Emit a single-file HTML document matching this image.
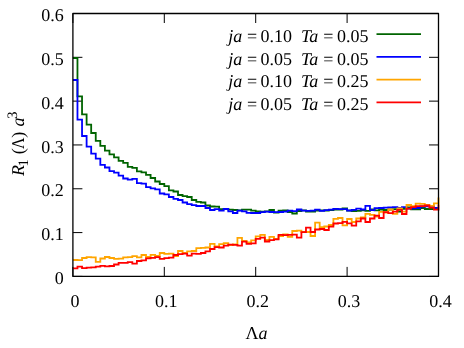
<!DOCTYPE html>
<html><head><meta charset="utf-8"><title>chart</title>
<style>html,body{margin:0;padding:0;background:#fff;width:464px;height:348px;overflow:hidden}body{position:relative;font-family:"Liberation Serif",serif}</style></head>
<body>
<svg width="464" height="348" viewBox="0 0 464 348" style="position:absolute;left:0;top:0">
<rect width="464" height="348" fill="#fff"/>
<g stroke="#000" stroke-width="1" fill="none">
<path d="M72.9,276.40h9.5M438.5,276.40h-9.5"/>
<path d="M72.9,232.58h9.5M438.5,232.58h-9.5"/>
<path d="M72.9,188.77h9.5M438.5,188.77h-9.5"/>
<path d="M72.9,144.95h9.5M438.5,144.95h-9.5"/>
<path d="M72.9,101.13h9.5M438.5,101.13h-9.5"/>
<path d="M72.9,57.32h9.5M438.5,57.32h-9.5"/>
<path d="M72.9,13.50h9.5M438.5,13.50h-9.5"/>
<path d="M72.90,276.4v-9.5M72.90,13.5v9.5"/>
<path d="M164.30,276.4v-9.5M164.30,13.5v9.5"/>
<path d="M255.70,276.4v-9.5M255.70,13.5v9.5"/>
<path d="M347.10,276.4v-9.5M347.10,13.5v9.5"/>
<path d="M438.50,276.4v-9.5M438.50,13.5v9.5"/>
</g>
<g font-family="'Liberation Serif', serif" font-size="18px" fill="#000" text-rendering="geometricPrecision" style="filter:grayscale(1)">
<text x="63.7" y="284.00" text-anchor="end">0</text>
<text x="63.7" y="240.18" text-anchor="end">0.1</text>
<text x="63.7" y="196.37" text-anchor="end">0.2</text>
<text x="63.7" y="152.55" text-anchor="end">0.3</text>
<text x="63.7" y="108.73" text-anchor="end">0.4</text>
<text x="63.7" y="64.92" text-anchor="end">0.5</text>
<text x="63.7" y="21.10" text-anchor="end">0.6</text>
<text x="74.90" y="307" text-anchor="middle">0</text>
<text x="166.30" y="307" text-anchor="middle">0.1</text>
<text x="257.70" y="307" text-anchor="middle">0.2</text>
<text x="349.10" y="307" text-anchor="middle">0.3</text>
<text x="440.50" y="307" text-anchor="middle">0.4</text>
<text x="256.5" y="338.7" text-anchor="middle">Λ<tspan font-style="italic">a</tspan></text>
<text transform="translate(23.9,176.0) rotate(-90)" font-style="italic">R</text>
<text transform="translate(27.5,166.4) rotate(-90)" font-size="14.4px">1</text>
<text transform="translate(23.9,154.2) rotate(-90)">(</text>
<text transform="translate(23.9,148.9) rotate(-90) scale(0.88,1)">Λ</text>
<text transform="translate(23.9,137.65) rotate(-90)">)</text>
<text transform="translate(23.9,126.4) rotate(-90)" font-style="italic">a</text>
<text transform="translate(16.7,118.75) rotate(-90)" font-size="14.4px">3</text>
<text y="41.80" xml:space="preserve"><tspan x="228.2" font-style="italic">ja</tspan><tspan x="242.5"> </tspan><tspan x="247">=</tspan><tspan x="256"> </tspan><tspan x="260.4">0.10</tspan><tspan x="291.5">  </tspan><tspan x="300.9" font-style="italic">Ta</tspan><tspan x="318.5"> </tspan><tspan x="323.3">=</tspan><tspan x="332.5"> </tspan><tspan x="337.1">0.05</tspan></text>
<text y="64.55" xml:space="preserve"><tspan x="228.2" font-style="italic">ja</tspan><tspan x="242.5"> </tspan><tspan x="247">=</tspan><tspan x="256"> </tspan><tspan x="260.4">0.05</tspan><tspan x="291.5">  </tspan><tspan x="300.9" font-style="italic">Ta</tspan><tspan x="318.5"> </tspan><tspan x="323.3">=</tspan><tspan x="332.5"> </tspan><tspan x="337.1">0.05</tspan></text>
<text y="87.30" xml:space="preserve"><tspan x="228.2" font-style="italic">ja</tspan><tspan x="242.5"> </tspan><tspan x="247">=</tspan><tspan x="256"> </tspan><tspan x="260.4">0.10</tspan><tspan x="291.5">  </tspan><tspan x="300.9" font-style="italic">Ta</tspan><tspan x="318.5"> </tspan><tspan x="323.3">=</tspan><tspan x="332.5"> </tspan><tspan x="337.1">0.25</tspan></text>
<text y="110.05" xml:space="preserve"><tspan x="228.2" font-style="italic">ja</tspan><tspan x="242.5"> </tspan><tspan x="247">=</tspan><tspan x="256"> </tspan><tspan x="260.4">0.05</tspan><tspan x="291.5">  </tspan><tspan x="300.9" font-style="italic">Ta</tspan><tspan x="318.5"> </tspan><tspan x="323.3">=</tspan><tspan x="332.5"> </tspan><tspan x="337.1">0.25</tspan></text>
</g>
<path d="M376.5,34.1H421" stroke="#006400" stroke-width="1.8" fill="none"/>
<path d="M376.5,56.85H421" stroke="#0000ff" stroke-width="1.8" fill="none"/>
<path d="M376.5,79.6H421" stroke="#ffa500" stroke-width="1.8" fill="none"/>
<path d="M376.5,102.35H421" stroke="#ff0000" stroke-width="1.8" fill="none"/>
<g fill="none" stroke-width="1.8" stroke-linejoin="miter">
<path d="M72.90,58.00H77.47V96.30H82.04V114.30H86.61V124.70H91.18V133.00H95.75V140.80H100.32V145.80H104.89V150.70H109.46V154.30H114.03V157.30H118.60V160.80H123.17V162.80H127.74V166.90H132.31V167.90H136.88V171.30H141.45V172.30H146.02V174.80H150.59V178.00H155.16V181.50H159.73V184.00H164.30V186.20H168.87V190.30H173.44V191.50H178.01V195.00H182.58V196.10H187.15V197.00H191.72V200.00H196.29V201.80H200.86V202.50H205.43V205.50H210.00V206.50H214.57V206.60H219.14V209.10H223.71V209.00H228.28V209.70H232.85V210.00H237.42V210.40H241.99V209.70H246.56V209.70H251.13V210.70H255.70V211.30H260.27V211.70H264.84V211.30H269.41V210.00H273.98V212.70H278.55V210.70H283.12V210.40H287.69V212.00H292.26V213.50H296.83V211.00H301.40V210.30H305.97V211.50H310.54V211.50H315.11V210.50H319.68V210.50H324.25V210.50H328.82V210.00H333.39V209.50H337.96V209.50H342.53V208.50H347.10V210.60H351.67V211.00H356.24V210.80H360.81V210.40H365.38V210.80H369.95V209.50H374.52V210.40H379.09V209.70H383.66V210.00H388.23V209.50H392.80V209.10H397.37V211.50H401.94V208.80H406.51V207.30H411.08V209.30H415.65V209.30H420.22V208.00H424.79V209.00H429.36V209.00H433.93V208.50H438.50" stroke="#006400"/>
<path d="M72.90,80.00H77.47V119.60H82.04V136.00H86.61V146.70H91.18V153.70H95.75V158.70H100.32V164.90H104.89V167.50H109.46V171.10H114.03V172.70H118.60V175.70H123.17V178.50H127.74V179.60H132.31V178.90H136.88V183.20H141.45V183.70H146.02V187.10H150.59V188.40H155.16V189.30H159.73V193.50H164.30V194.30H168.87V197.00H173.44V198.80H178.01V200.00H182.58V202.50H187.15V204.10H191.72V205.10H196.29V206.00H200.86V206.00H205.43V208.00H210.00V210.00H214.57V209.20H219.14V210.70H223.71V209.00H228.28V211.30H232.85V213.00H237.42V210.70H241.99V211.30H246.56V212.90H251.13V213.00H255.70V213.00H260.27V212.20H264.84V211.70H269.41V212.00H273.98V212.20H278.55V212.00H283.12V211.70H287.69V210.70H292.26V211.20H296.83V209.50H301.40V210.60H305.97V210.80H310.54V210.60H315.11V209.60H319.68V210.90H324.25V210.20H328.82V209.60H333.39V208.90H337.96V209.20H342.53V209.20H347.10V210.50H351.67V209.80H356.24V208.70H360.81V209.50H365.38V205.90H369.95V210.10H374.52V208.20H379.09V208.00H383.66V207.60H388.23V207.30H392.80V207.20H397.37V207.80H401.94V207.10H406.51V208.60H411.08V208.30H415.65V208.00H420.22V206.50H424.79V206.30H429.36V206.50H433.93V207.90H438.50" stroke="#0000ff"/>
<path d="M72.90,260.00H77.47V260.20H82.04V258.00H86.61V257.20H91.18V257.40H95.75V261.90H100.32V258.50H104.89V257.00H109.46V258.00H114.03V258.90H118.60V258.70H123.17V257.30H127.74V257.10H132.31V256.10H136.88V257.40H141.45V255.00H146.02V257.00H150.59V254.80H155.16V256.00H159.73V253.00H164.30V253.90H168.87V253.70H173.44V256.20H178.01V251.00H182.58V253.00H187.15V251.40H191.72V251.00H196.29V248.20H200.86V247.80H205.43V247.50H210.00V243.90H214.57V246.50H219.14V244.10H223.71V243.20H228.28V245.00H232.85V244.30H237.42V237.80H241.99V240.80H246.56V242.50H251.13V240.40H255.70V236.40H260.27V234.80H264.84V240.00H269.41V236.90H273.98V238.80H278.55V236.00H283.12V234.30H287.69V236.90H292.26V231.00H296.83V230.60H301.40V232.00H305.97V232.00H310.54V236.00H315.11V222.70H319.68V227.20H324.25V226.50H328.82V225.00H333.39V218.90H337.96V218.00H342.53V225.30H347.10V219.00H351.67V222.00H356.24V218.50H360.81V217.50H365.38V213.90H369.95V214.90H374.52V216.50H379.09V211.80H383.66V212.50H388.23V209.50H392.80V213.80H397.37V208.50H401.94V211.60H406.51V205.00H411.08V206.20H415.65V203.70H420.22V203.80H424.79V204.80H429.36V205.90H433.93V203.40H438.50V197.60" stroke="#ffa500"/>
<path d="M72.90,268.40H77.47V266.70H82.04V268.20H86.61V267.60H91.18V267.30H95.75V266.70H100.32V265.80H104.89V266.30H109.46V266.00H114.03V264.50H118.60V262.90H123.17V262.90H127.74V262.10H132.31V263.60H136.88V261.00H141.45V260.40H146.02V258.40H150.59V257.80H155.16V257.20H159.73V258.80H164.30V258.20H168.87V257.60H173.44V255.00H178.01V254.10H182.58V253.60H187.15V255.60H191.72V253.60H196.29V253.90H200.86V253.00H205.43V251.40H210.00V249.00H214.57V247.20H219.14V247.50H223.71V245.60H228.28V244.70H232.85V244.90H237.42V245.60H241.99V241.70H246.56V243.90H251.13V243.40H255.70V238.80H260.27V237.60H264.84V241.50H269.41V240.10H273.98V239.40H278.55V234.90H283.12V235.20H287.69V234.90H292.26V234.70H296.83V237.60H301.40V232.10H305.97V227.70H310.54V232.00H315.11V229.50H319.68V229.00H324.25V230.00H328.82V226.60H333.39V223.50H337.96V223.20H342.53V221.80H347.10V223.40H351.67V225.60H356.24V221.40H360.81V218.50H365.38V222.00H369.95V218.50H374.52V215.60H379.09V218.00H383.66V212.20H388.23V213.10H392.80V211.70H397.37V209.80H401.94V214.00H406.51V208.70H411.08V207.20H415.65V206.20H420.22V206.20H424.79V205.50H429.36V207.60H433.93V209.70H438.50V204.60" stroke="#ff0000"/>
</g>
<rect x="72.9" y="13.5" width="365.6" height="262.9" fill="none" stroke="#000" stroke-width="1.3" stroke-linejoin="round"/>
</svg>
</body></html>
